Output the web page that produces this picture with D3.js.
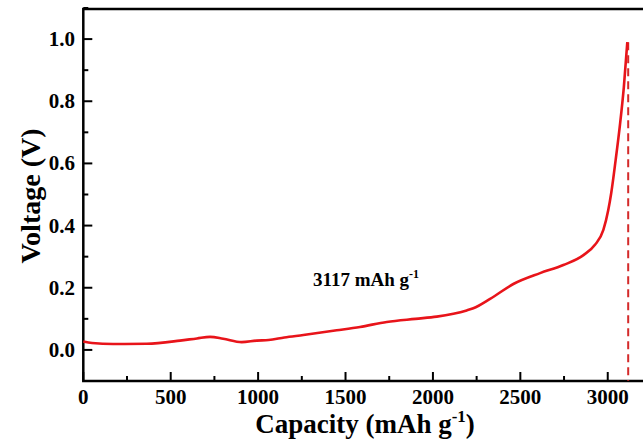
<!DOCTYPE html>
<html>
<head>
<meta charset="utf-8">
<script src="https://cdn.jsdelivr.net/npm/d3@7"></script>
<style>
  html, body { margin: 0; padding: 0; background: #fff; }
  svg text { font-family: 'Liberation Serif', 'Times New Roman', serif; font-weight: bold; fill: #000; }
</style>
</head>
<body>
<svg id="chart" width="643" height="446"></svg>
<script>
// discharge curve
const capacity = [0, 50, 170, 363, 553, 650, 725, 800, 906, 992, 1060, 1150, 1259, 1450, 1583, 1736, 1900, 2022,
  2193, 2231, 2327, 2460, 2613, 2746, 2861, 2927, 2975, 3003, 3020, 3045, 3070, 3092, 3112];
const voltage = [0.027, 0.022, 0.019, 0.020, 0.030, 0.037, 0.042, 0.036, 0.025, 0.030, 0.032, 0.040, 0.048, 0.063,
  0.074, 0.090, 0.100, 0.107, 0.127, 0.134, 0.164, 0.212, 0.247, 0.273, 0.305, 0.338, 0.386, 0.450, 0.505,
  0.610, 0.725, 0.845, 0.99];
const xTicks = [0, 500, 1000, 1500, 2000, 2500, 3000];
const yTicks = [0.0, 0.2, 0.4, 0.6, 0.8, 1.0];
const capacityMark = 3117;

const data = capacity.map((c, i) => ({ c: c, v: voltage[i] }));

const svg = d3.select('#chart');
const margin = { left: 83.3, top: 9, bottom: 381 };

const x = d3.scaleLinear().domain([0, 3220]).range([margin.left, 646.2]);
const y = d3.scaleLinear().domain([-0.1, 1.1]).range([381, 8]);

// ticks point inward
const xMinor = d3.range(0, 3201, 250);
const yMinor = d3.range(-0.1, 1.11, 0.1);

const g = svg.append('g');

g.selectAll('.xminor')
  .data(xMinor)
  .enter().append('line')
  .attr('x1', d => x(d)).attr('x2', d => x(d))
  .attr('y1', y(-0.1)).attr('y2', d => y(-0.1) - (d % 500 === 0 ? 9 : 5))
  .attr('stroke', '#000').attr('stroke-width', 2);

g.selectAll('.yminor')
  .data(yMinor)
  .enter().append('line')
  .attr('x1', margin.left).attr('x2', (d, i) => margin.left + (i % 2 === 1 ? 9 : 5))
  .attr('y1', d => y(d)).attr('y2', d => y(d))
  .attr('stroke', '#000').attr('stroke-width', 2);

// axis frame: left, bottom, top
g.append('path')
  .attr('d', `M${x(3220)},${y(1.1) + 1} H${margin.left} V${y(-0.1)} H${x(3220)}`)
  .attr('fill', 'none')
  .attr('stroke', '#000')
  .attr('stroke-width', 2.5);

g.selectAll('.xlab')
  .data(xTicks)
  .enter().append('text')
  .attr('x', d => x(d))
  .attr('y', 404)
  .attr('text-anchor', 'middle')
  .style('font-size', '21px')
  .text(d => d);

g.selectAll('.ylab')
  .data(yTicks)
  .enter().append('text')
  .attr('x', 75)
  .attr('y', d => y(d) + 7)
  .attr('text-anchor', 'end')
  .style('font-size', '21px')
  .text(d => d3.format('.1f')(d));

// axis titles
const xt = svg.append('text')
  .attr('x', 365)
  .attr('y', 433)
  .attr('text-anchor', 'middle')
  .style('font-size', '27px');
xt.append('tspan').text('Capacity (mAh g');
xt.append('tspan').attr('dy', -11).style('font-size', '17px').text('-1');
xt.append('tspan').attr('dy', 11).text(')');

svg.append('text')
  .attr('transform', 'translate(40,196) rotate(-90)')
  .attr('text-anchor', 'middle')
  .style('font-size', '28px')
  .text('Voltage (V)');

// dashed marker at final capacity
svg.append('line')
  .attr('x1', x(capacityMark)).attr('x2', x(capacityMark))
  .attr('y1', y(0.99)).attr('y2', y(-0.1))
  .attr('stroke', '#d42a2a')
  .attr('stroke-width', 2)
  .attr('stroke-dasharray', '8,5');

const line = d3.line()
  .x(d => x(d.c))
  .y(d => y(d.v))
  .curve(d3.curveMonotoneX);

svg.append('path')
  .datum(data)
  .attr('d', line)
  .attr('fill', 'none')
  .attr('stroke', '#e8141a')
  .attr('stroke-width', 2.6);

const ann = svg.append('text')
  .attr('x', 313)
  .attr('y', 286)
  .style('font-size', '19px');
ann.append('tspan').text(capacityMark + ' mAh g');
ann.append('tspan').attr('dy', -8).style('font-size', '12px').text('-1');
</script>
</body>
</html>
